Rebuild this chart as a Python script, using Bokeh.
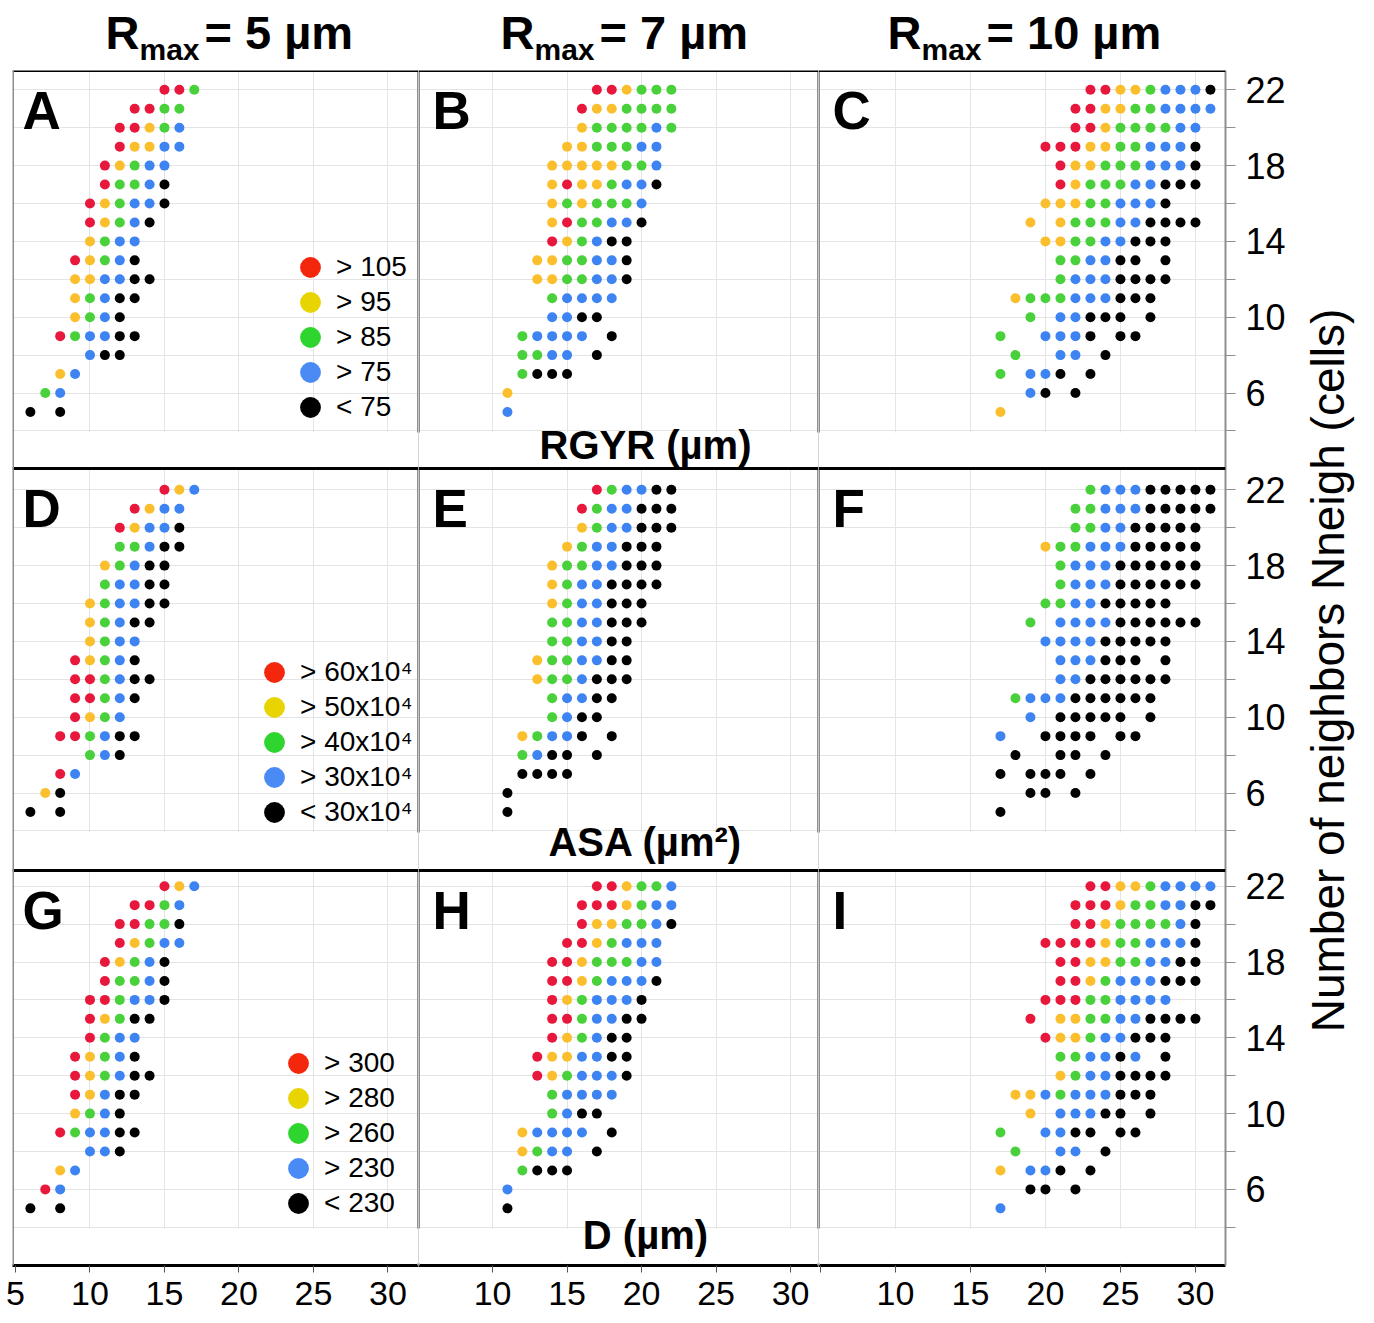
from math import pi
from bokeh.plotting import figure
from bokeh.models import (ColumnDataSource, Range1d, LinearAxis, FixedTicker, Grid,
                          Span, BoxAnnotation, Label, Legend, LegendItem)
from bokeh.layouts import column, row
from bokeh.embed import file_html
from bokeh.resources import INLINE
from bokeh.transform import factor_cmap

# ---------------- data ----------------
CLASSES = ["R", "Y", "G", "B", "K"]          # colour bins, highest to lowest
RMAX_UM = [5, 7, 10]
METRIC_TITLES = ["RGYR (µm)", "ASA (µm²)", "D (µm)"]
LEGEND_RGYR = ["> 105", "> 95", "> 85", "> 75", "< 75"]
LEGEND_ASA = ["> 60x10⁴", "> 50x10⁴", "> 40x10⁴", "> 30x10⁴", "< 30x10⁴"]
LEGEND_D = ["> 300", "> 280", "> 260", "> 230", "< 230"]
PANEL_LETTERS = [["A", "B", "C"], ["D", "E", "F"], ["G", "H", "I"]]
X_TICKS = [5, 10, 15, 20, 25, 30]
X_GRID = [10, 15, 20, 25, 30]
N_MAJOR = [6, 10, 14, 18, 22]
N_MINOR = [4, 8, 12, 16, 20]
N_GRID = [4, 6, 8, 10, 12, 14, 16, 18, 20, 22]
Y_AXIS_TITLE = "Number of neighbors Nneigh (cells)"

# Nneigh -> (first x, class of each consecutive integer x; "." = no point)
RGYR_5 = {22: (15, "RRG"), 21: (13, "RRGG"), 20: (12, "RRYGB"), 19: (12, "RYYBB"),
          18: (11, "RYGBB"), 17: (11, "RGGBK"), 16: (10, "RYGBBK"), 15: (10, "RYGBK"),
          14: (10, "YGBB"), 13: (9, "RYGBK"), 12: (9, "YYBBKK"), 11: (9, "YGBKK"),
          10: (9, "YGBK"), 9: (8, "RGBBKK"), 8: (10, "BKK"), 7: (8, "YB"), 6: (7, "GB"),
          5: (6, "K.K")}
RGYR_7 = {22: (17, "RRYGGG"), 21: (16, "RYYGGGG"), 20: (16, "YGGGGBG"), 19: (15, "YYGGGBB"),
          18: (14, "YYYYYGGB"), 17: (14, "YRYYGBBK"), 16: (14, "YGYGGGB"), 15: (14, "YRGGBBK"),
          14: (14, "RYGBKK"), 13: (13, "YYGGBBK"), 12: (13, "YYGGBBK"), 11: (14, "GBBBB"),
          10: (14, "BBKK"), 9: (12, "GBBBB.K"), 8: (12, "GGBB.K"), 7: (12, "GKKK"),
          6: (11, "Y"), 5: (11, "B")}
RGYR_10 = {22: (23, "RRYYGBBBK"), 21: (22, "RRYYGGBBBB"), 20: (22, "RRYGGGGBB"),
           19: (20, "RRRYYGGBBBK"), 18: (21, "RYYGGGBBBK"), 17: (21, "RYGGGBBKKK"),
           16: (20, "YYYGGBBBK"), 15: (19, "Y.YGGGBBKKKK"), 14: (20, "YYGGBBKKK"),
           13: (21, "GGBBKK.K"), 12: (21, "GBBBKKKK"), 11: (18, "YGGGBBBKKK"),
           10: (19, "G.BBKKK.K"), 9: (17, "G..BBBK.KK"), 8: (18, "G..BB.K"),
           7: (17, "G.BBK.K"), 6: (19, "BK.K"), 5: (17, "Y")}
ASA_5 = {22: (15, "RYB"), 21: (13, "RYBB"), 20: (12, "RYBBK"), 19: (12, "GGBKK"),
         18: (11, "YGBKK"), 17: (11, "GBBKK"), 16: (10, "YGBBKK"), 15: (10, "YGBKK"),
         14: (10, "YGBB"), 13: (9, "RYGBK"), 12: (9, "RRGBKK"), 11: (9, "RRGBK"),
         10: (9, "RYGB"), 9: (8, "RRGBKK"), 8: (10, "GBK"), 7: (8, "RB"), 6: (7, "YK"),
         5: (6, "K.K")}
ASA_7 = {22: (17, "RGBBKK"), 21: (16, "RGBBKKK"), 20: (16, "YGBBKKK"), 19: (15, "YGBBKKK"),
         18: (14, "YGGBBKKK"), 17: (14, "YGBBKKKK"), 16: (14, "YGBBKKK"), 15: (14, "GGBBKKK"),
         14: (14, "GGBBKK"), 13: (13, "YGGBBKK"), 12: (13, "YGGBKKK"), 11: (14, "GBBKK"),
         10: (14, "GBKK"), 9: (12, "YGBBK.K"), 8: (12, "GBKK.K"), 7: (12, "KKKK"),
         6: (11, "K"), 5: (11, "K")}
ASA_10 = {22: (23, "GBBBKKKKK"), 21: (22, "GGBBBKKKKK"), 20: (22, "GGBBKKKKK"),
          19: (20, "YGGBBBKKKKK"), 18: (21, "GBBBKKKKKK"), 17: (21, "GBBBKKKKKK"),
          16: (20, "GGBBKKKKK"), 15: (19, "G.BBBBKKKKKK"), 14: (20, "BBBBKKKKK"),
          13: (21, "BBBKKK.K"), 12: (21, "BBKKKKKK"), 11: (18, "GBBBKKKKKK"),
          10: (19, "B.KKKKK.K"), 9: (17, "B..KKKK.KK"), 8: (18, "K..KK.K"),
          7: (17, "K.KKK.K"), 6: (19, "KK.K"), 5: (17, "K")}
D_5 = {22: (15, "RYB"), 21: (13, "RRGB"), 20: (12, "RRGGK"), 19: (12, "RYGBB"),
       18: (11, "RYGBK"), 17: (11, "RGGBK"), 16: (10, "RRGBBK"), 15: (10, "RYGKK"),
       14: (10, "RGBB"), 13: (9, "RYGBK"), 12: (9, "RYGBKK"), 11: (9, "RYBKK"),
       10: (9, "YGBK"), 9: (8, "RGBBKK"), 8: (10, "BBK"), 7: (8, "YB"), 6: (7, "RB"),
       5: (6, "K.K")}
D_7 = {22: (17, "RRYGGB"), 21: (16, "RRRYGBB"), 20: (16, "RYYGGBK"), 19: (15, "RRYGBBB"),
       18: (14, "RRYGGGBB"), 17: (14, "RRYGBBBK"), 16: (14, "RYGBBBK"), 15: (14, "RRGBBKK"),
       14: (14, "RYGBKK"), 13: (13, "RYYBBKK"), 12: (13, "RYGBBBK"), 11: (14, "GBBBB"),
       10: (14, "GBKK"), 9: (12, "YBBBB.K"), 8: (12, "YGBB.K"), 7: (12, "GKKK"),
       6: (11, "B"), 5: (11, "K")}
D_10 = {22: (23, "RRYYGBBBB"), 21: (22, "RRRYGGBBKK"), 20: (22, "RRYGGGGBK"),
        19: (20, "RRRRYGGBBBK"), 18: (21, "RRYYGGBBKK"), 17: (21, "RRYGBBBKKK"),
        16: (20, "RRRGGBBBB"), 15: (19, "R.YYGGBBKKKK"), 14: (20, "RYYGBBKKK"),
        13: (21, "GGBBKB.K"), 12: (21, "YGBBKKKK"), 11: (18, "YYBGBBBKKK"),
        10: (19, "Y.BBBKK.K"), 9: (17, "G..BBKK.KK"), 8: (18, "G..BB.K"),
        7: (17, "Y.BBK.K"), 6: (19, "KK.K"), 5: (17, "B")}

PANELS = [[RGYR_5, RGYR_7, RGYR_10], [ASA_5, ASA_7, ASA_10], [D_5, D_7, D_10]]
LEGENDS = [LEGEND_RGYR, LEGEND_ASA, LEGEND_D]

# ---------------- style / layout ----------------
DOT_COLORS = ["#e8183c", "#fbbf2e", "#48d13a", "#3d84f2", "#000000"]
LEG_COLORS = ["#f4270c", "#e8d400", "#2fd52f", "#4a8af5", "#000000"]
FONT = "Liberation Sans"
GRAY = "#8f8f8f"
GRID_C = "#e4e4e4"
BASE_FIX = 0.375        # label baseline correction (fraction of font size)

FRAME_TOP, FRAME_BOTTOM = 70, 1265
FRAME_H = FRAME_BOTTOM - FRAME_TOP
HEADER_H = 70
BOTTOM_B = 56
BAND_TOP = [70, 468, 870]
BAND_BOTTOM = [432, 832, 1228]
Y22 = [89.3, 489.3, 885.7]
PX_N = 18.95
COL_W = [406, 400, 407]
LEFT_B = [12, 0, 0]
RIGHT_B = [0, 0, 78]
TITLE_W = 70
X_START = [4.80, 5.03, 4.87]
PX_X = [14.9, 14.9, 15.0]
LETTER_DX = [10, 14, 14]
GAP_BASELINE = [459, 856, 1249]
LEG_X = [310, 274, 298]
LEG_Y0 = [267, 672, 1063]
LEG_PITCH = 35
LEG_BOX = 52


def gy(ref_y):
    return FRAME_BOTTOM - ref_y


def g_of(r, n):
    return round(gy(Y22[r] + (22 - n) * PX_N), 1)


def expand(panel):
    xs, ys, cs = [], [], []
    for n, (x0, codes) in panel.items():
        for i, ch in enumerate(codes):
            if ch != ".":
                xs.append(x0 + i)
                ys.append(n)
                cs.append(ch)
    return dict(x=xs, y=ys, cls=cs)


def text_label(x, baseline_up, text, size, bold=False, align="left"):
    return Label(x=x, y=baseline_up + BASE_FIX * size, x_units="screen", y_units="screen",
                 text=text, text_font=FONT, text_font_style="bold" if bold else "normal",
                 text_font_size=f"{size}px", text_align=align, text_baseline="alphabetic",
                 text_color="black")


cols = []
for c in range(3):
    w = COL_W[c]
    x_end = X_START[c] + w / PX_X[c]
    p = figure(width=LEFT_B[c] + w + RIGHT_B[c], height=FRAME_H + BOTTOM_B,
               x_range=Range1d(X_START[c], x_end),
               y_range=Range1d(0, FRAME_H),
               x_axis_type=None, y_axis_type=None,
               toolbar_location=None, output_backend="svg",
               min_border_left=LEFT_B[c], min_border_right=RIGHT_B[c],
               min_border_top=0, min_border_bottom=BOTTOM_B,
               outline_line_color=None,
               background_fill_color="white", border_fill_color="white")
    p.extra_y_ranges = {f"row{r}": Range1d(22 - (FRAME_BOTTOM - Y22[r]) / PX_N,
                                           22 - (FRAME_TOP - Y22[r]) / PX_N) for r in range(3)}

    p.add_layout(Grid(dimension=0, ticker=FixedTicker(ticks=X_GRID),
                      grid_line_color=GRID_C, grid_line_width=1))
    p.add_layout(Grid(dimension=1, ticker=FixedTicker(ticks=[g_of(r, n) for r in range(3) for n in N_GRID]),
                      grid_line_color=GRID_C, grid_line_width=1))

    # column separators (cut in the gaps by the masks below)
    if c > 0:
        p.add_layout(Span(location=X_START[c], dimension="height", line_color=GRAY, line_width=3))
    if c < 2:
        p.add_layout(Span(location=x_end, dimension="height", line_color=GRAY, line_width=3))

    next_top = [BAND_TOP[1], BAND_TOP[2], FRAME_BOTTOM - 2]
    for r in range(3):
        p.add_layout(BoxAnnotation(top=gy(BAND_BOTTOM[r]), bottom=gy(next_top[r]),
                                   right=(x_end - 2.5 / PX_X[c]) if c == 2 else None,
                                   fill_color="white", fill_alpha=1, line_color=None))
    for r in range(3):
        p.add_layout(Span(location=gy(BAND_TOP[r]), dimension="width",
                          line_color="black", line_width=3))
    if c == 0:
        p.add_layout(Span(location=X_START[0], dimension="height", line_color=GRAY, line_width=3))

    for r in range(3):
        src = ColumnDataSource(expand(PANELS[r][c]))
        p.scatter("x", "y", source=src, y_range_name=f"row{r}", size=10,
                  fill_color=factor_cmap("cls", DOT_COLORS, CLASSES), line_color=None)
        p.add_layout(text_label(LETTER_DX[c], gy(BAND_TOP[r] + 60), PANEL_LETTERS[r][c], 53, bold=True))
        if c == 0:
            for k, cl in enumerate(CLASSES):
                rr = p.scatter(x=[float("nan")], y=[float("nan")], size=10,
                               fill_color=LEG_COLORS[k], line_color=None)
                cy = LEG_Y0[r] + k * LEG_PITCH
                p.add_layout(Legend(items=[LegendItem(label=LEGENDS[r][k], renderers=[rr])],
                                    location=(LEG_X[r] - LEFT_B[0] - LEG_BOX / 2, gy(cy + LEG_BOX / 2)),
                                    orientation="vertical",
                                    glyph_width=LEG_BOX, glyph_height=LEG_BOX, label_height=LEG_BOX,
                                    spacing=0, padding=0, margin=0, label_standoff=0,
                                    border_line_color=None, background_fill_alpha=0,
                                    label_text_font=FONT, label_text_font_size="28px",
                                    label_text_color="black"))
        if c == 1:
            p.add_layout(text_label(645 - 418, gy(GAP_BASELINE[r]), METRIC_TITLES[r], 40,
                                    bold=True, align="center"))

    bx = LinearAxis(ticker=FixedTicker(ticks=X_TICKS),
                    major_label_overrides=({} if c == 0 else {5: ""}),
                    axis_line_color="black", axis_line_width=3,
                    major_tick_out=7, major_tick_in=0, minor_tick_out=0, minor_tick_in=0,
                    major_tick_line_color="#555555", major_label_standoff=9,
                    major_label_text_font=FONT,
                    major_label_text_font_size="34px", major_label_text_color="black")
    p.add_layout(bx, "below")

    if c == 2:
        major = [g_of(r, n) for r in range(3) for n in N_MAJOR]
        minor = [g_of(r, n) for r in range(3) for n in N_MINOR]
        overrides = {g_of(r, n): str(n) for r in range(3) for n in N_MAJOR}
        ry = LinearAxis(ticker=FixedTicker(ticks=major, minor_ticks=minor),
                        major_label_overrides=overrides,
                        axis_line_color=GRAY, axis_line_width=2,
                        major_tick_out=10, major_tick_in=0, minor_tick_out=10, minor_tick_in=0,
                        major_tick_line_color=GRAY, minor_tick_line_color=GRAY,
                        major_label_standoff=10, major_label_text_font=FONT,
                        major_label_text_font_size="36px", major_label_text_color="black")
        p.add_layout(ry, "right")
    cols.append(p)

# y-axis title, in its own strip to the right
ttl = figure(width=TITLE_W, height=FRAME_H + BOTTOM_B, x_range=Range1d(0, 1), y_range=Range1d(0, 1),
             x_axis_type=None, y_axis_type=None, toolbar_location=None, output_backend="svg",
             min_border_left=0, min_border_right=0, min_border_top=0, min_border_bottom=BOTTOM_B,
             outline_line_color=None)
strip_left = sum(LEFT_B) + sum(COL_W) + sum(RIGHT_B)
ttl.add_layout(Label(x=1345 - strip_left - BASE_FIX * 46, y=gy(670), x_units="screen", y_units="screen",
                     text=Y_AXIS_TITLE, angle=pi / 2, text_font=FONT, text_font_size="46px",
                     text_align="center", text_baseline="alphabetic", text_color="black"))

total_w = strip_left + TITLE_W
hdr = figure(width=total_w, height=HEADER_H, x_range=Range1d(0, 1), y_range=Range1d(0, 1),
             x_axis_type=None, y_axis_type=None, toolbar_location=None, output_backend="svg",
             min_border=0, outline_line_color=None)
HEADER_X = [105, 500, 887]
for c in range(3):
    hx = HEADER_X[c]
    hdr.add_layout(text_label(hx, HEADER_H - 50, "R", 47, bold=True))
    hdr.add_layout(text_label(hx + 34, HEADER_H - 60, "max", 30, bold=True))
    hdr.add_layout(text_label(hx + 99, HEADER_H - 50, f"= {RMAX_UM[c]} µm", 47, bold=True))

layout = column(hdr, row(*cols, ttl, spacing=0), spacing=0)
open("out.html", "w").write(file_html(layout, INLINE))
